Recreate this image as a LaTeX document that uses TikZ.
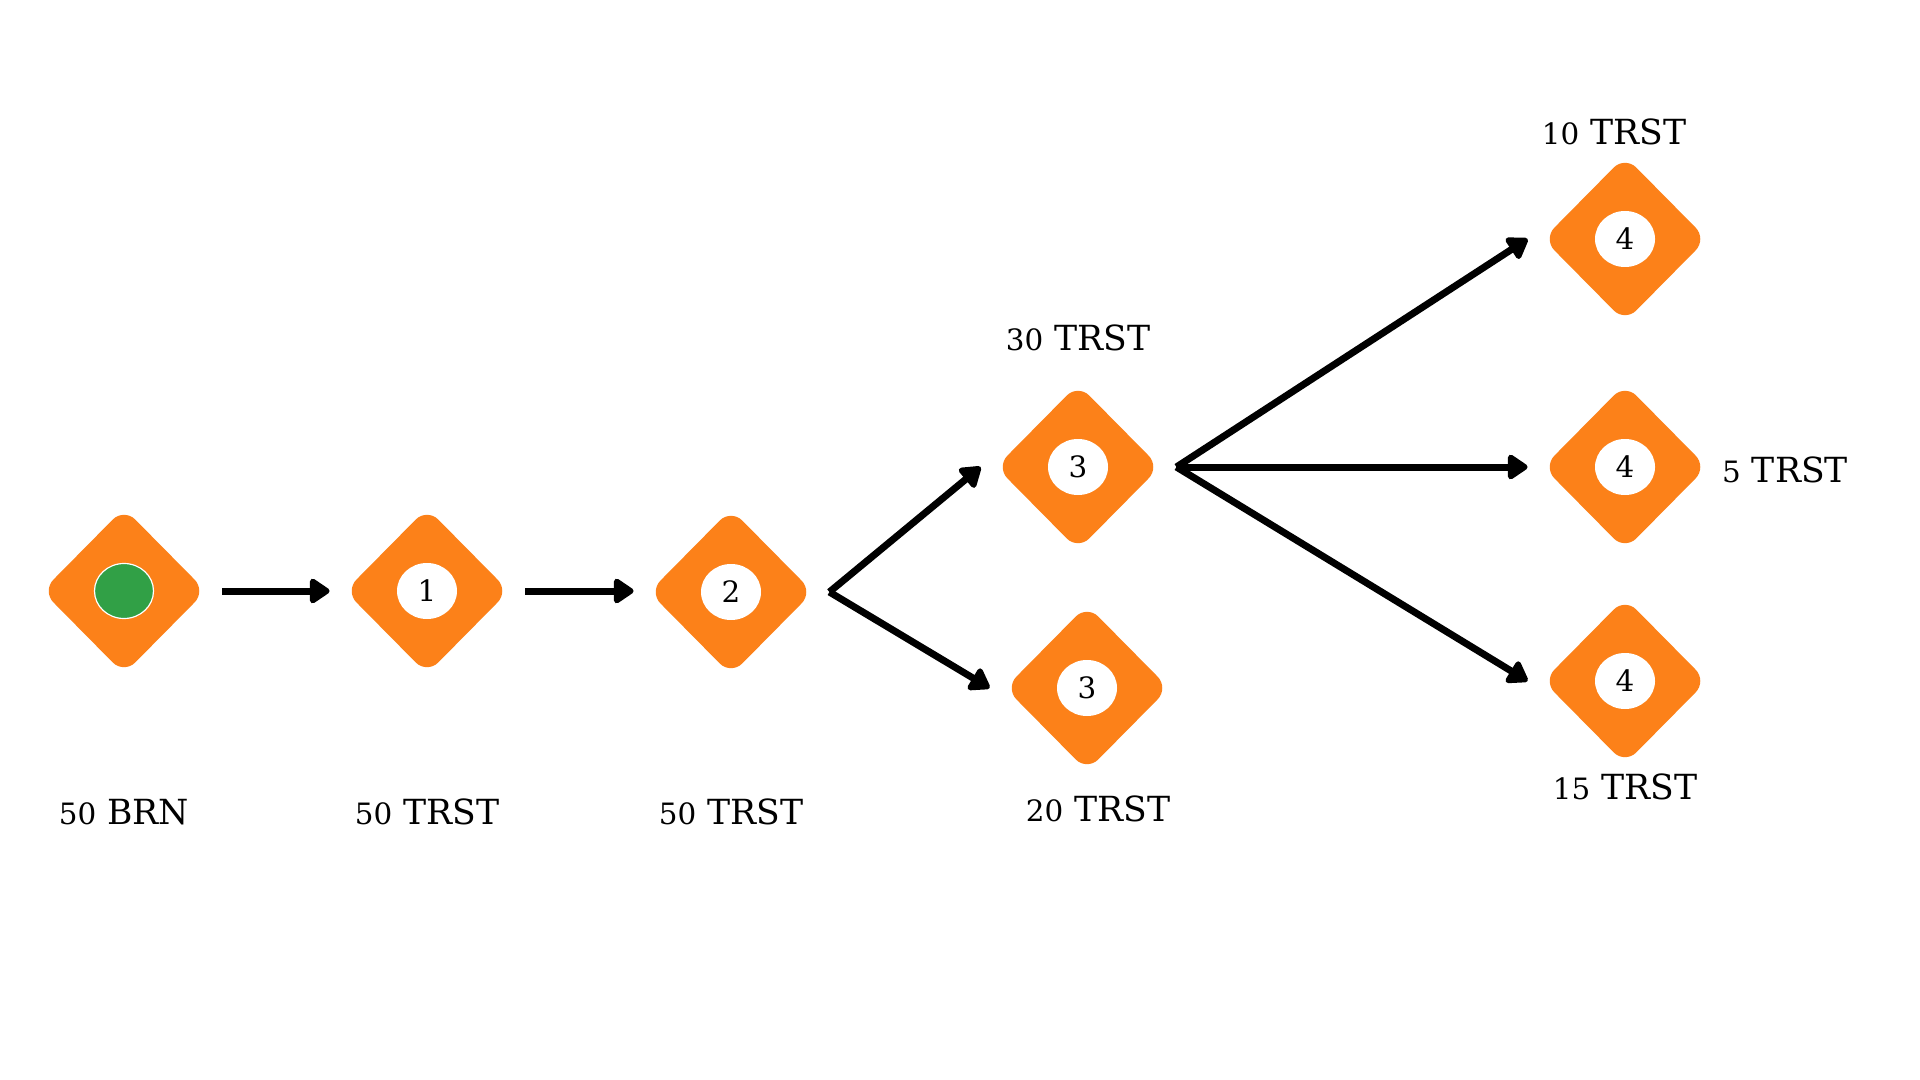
\documentclass[tikz,border=0pt]{standalone}
\usepackage{fontspec}
\setmainfont{DejaVu Serif}
\usetikzlibrary{shapes.geometric,arrows.meta}
\definecolor{dorange}{HTML}{FC8119}
\definecolor{dgreen}{HTML}{31A046}
\newcommand\dg[1]{{\fontsize{14.7}{14.7}\selectfont #1}}
\tikzset{
  dia/.style={diamond, fill=dorange, minimum width=82pt, minimum height=83pt, inner sep=0pt, rounded corners=8pt},
  badge/.style={ellipse, fill=white, minimum width=30pt, minimum height=28pt, inner sep=0pt, font=\fontsize{14.7}{14.7}\selectfont},
  gdot/.style={ellipse, fill=dgreen, draw=white, line width=0.6pt, minimum width=29.5pt, minimum height=27.5pt, inner sep=0pt},
  lbl/.style={font=\fontsize{17.3}{17.3}\selectfont, inner sep=0pt},
  arr/.style={line width=3.5pt, -{Triangle[length=11pt,width=14pt,round]}},
}
\begin{document}
\begin{tikzpicture}[x=0.5pt,y=-0.5pt]
\useasboundingbox[fill=white] (0,0) rectangle (1920,1080);
% diamonds
\node[dia] (d0) at (124,591) {};
\node[dia] (d1) at (427,591) {};
\node[dia] (d2) at (731,592) {};
\node[dia] (d3a) at (1078,467) {};
\node[dia] (d3b) at (1087,688) {};
\node[dia] (d4a) at (1625,239) {};
\node[dia] (d4b) at (1625,467) {};
\node[dia] (d4c) at (1625,681) {};
% inner marks
\node[gdot] (g0) at (d0.center) {};
\node[badge] (b1) at (d1.center) {1};
\node[badge] (b2) at (d2.center) {2};
\node[badge] (b3a) at (d3a.center) {3};
\node[badge] (b3b) at (d3b.center) {3};
\node[badge] (b4a) at (d4a.center) {4};
\node[badge] (b4b) at (d4b.center) {4};
\node[badge] (b4c) at (d4c.center) {4};
% labels
\node[lbl] (l0) at (124,812) {\dg{50} BRN};
\node[lbl] (l1) at (427,812) {\dg{50} TRST};
\node[lbl] (l2) at (731,812) {\dg{50} TRST};
\node[lbl] (l3a) at (1078,338) {\dg{30} TRST};
\node[lbl] (l3b) at (1098,809) {\dg{20} TRST};
\node[lbl] (l4a) at (1614,132) {\dg{10} TRST};
\node[lbl] (l4b) at (1785,470) {\dg{5} TRST};
\node[lbl] (l4c) at (1625,787) {\dg{15} TRST};
% branch points
\coordinate (s2) at ([xshift=8pt]d2.east);
\coordinate (s3) at ([xshift=8pt]d3a.east);
% arrows
\draw[arr] ([xshift=8pt]d0.east) -- ([xshift=-7.5pt]d1.west);
\draw[arr] ([xshift=8pt]d1.east) -- ([xshift=-7.5pt]d1.west -| d2.west);
\draw[arr] (s2) -- ([xshift=-7.5pt]d3a.west);
\draw[arr] (s2) -- ([xshift=-7.5pt]d3b.west);
\draw[arr] (s3) -- ([xshift=-7.5pt]d4a.west);
\draw[arr] (s3) -- ([xshift=-7.5pt]d4b.west);
\draw[arr] (s3) -- ([xshift=-7.5pt]d4c.west);
\end{tikzpicture}
\end{document}
